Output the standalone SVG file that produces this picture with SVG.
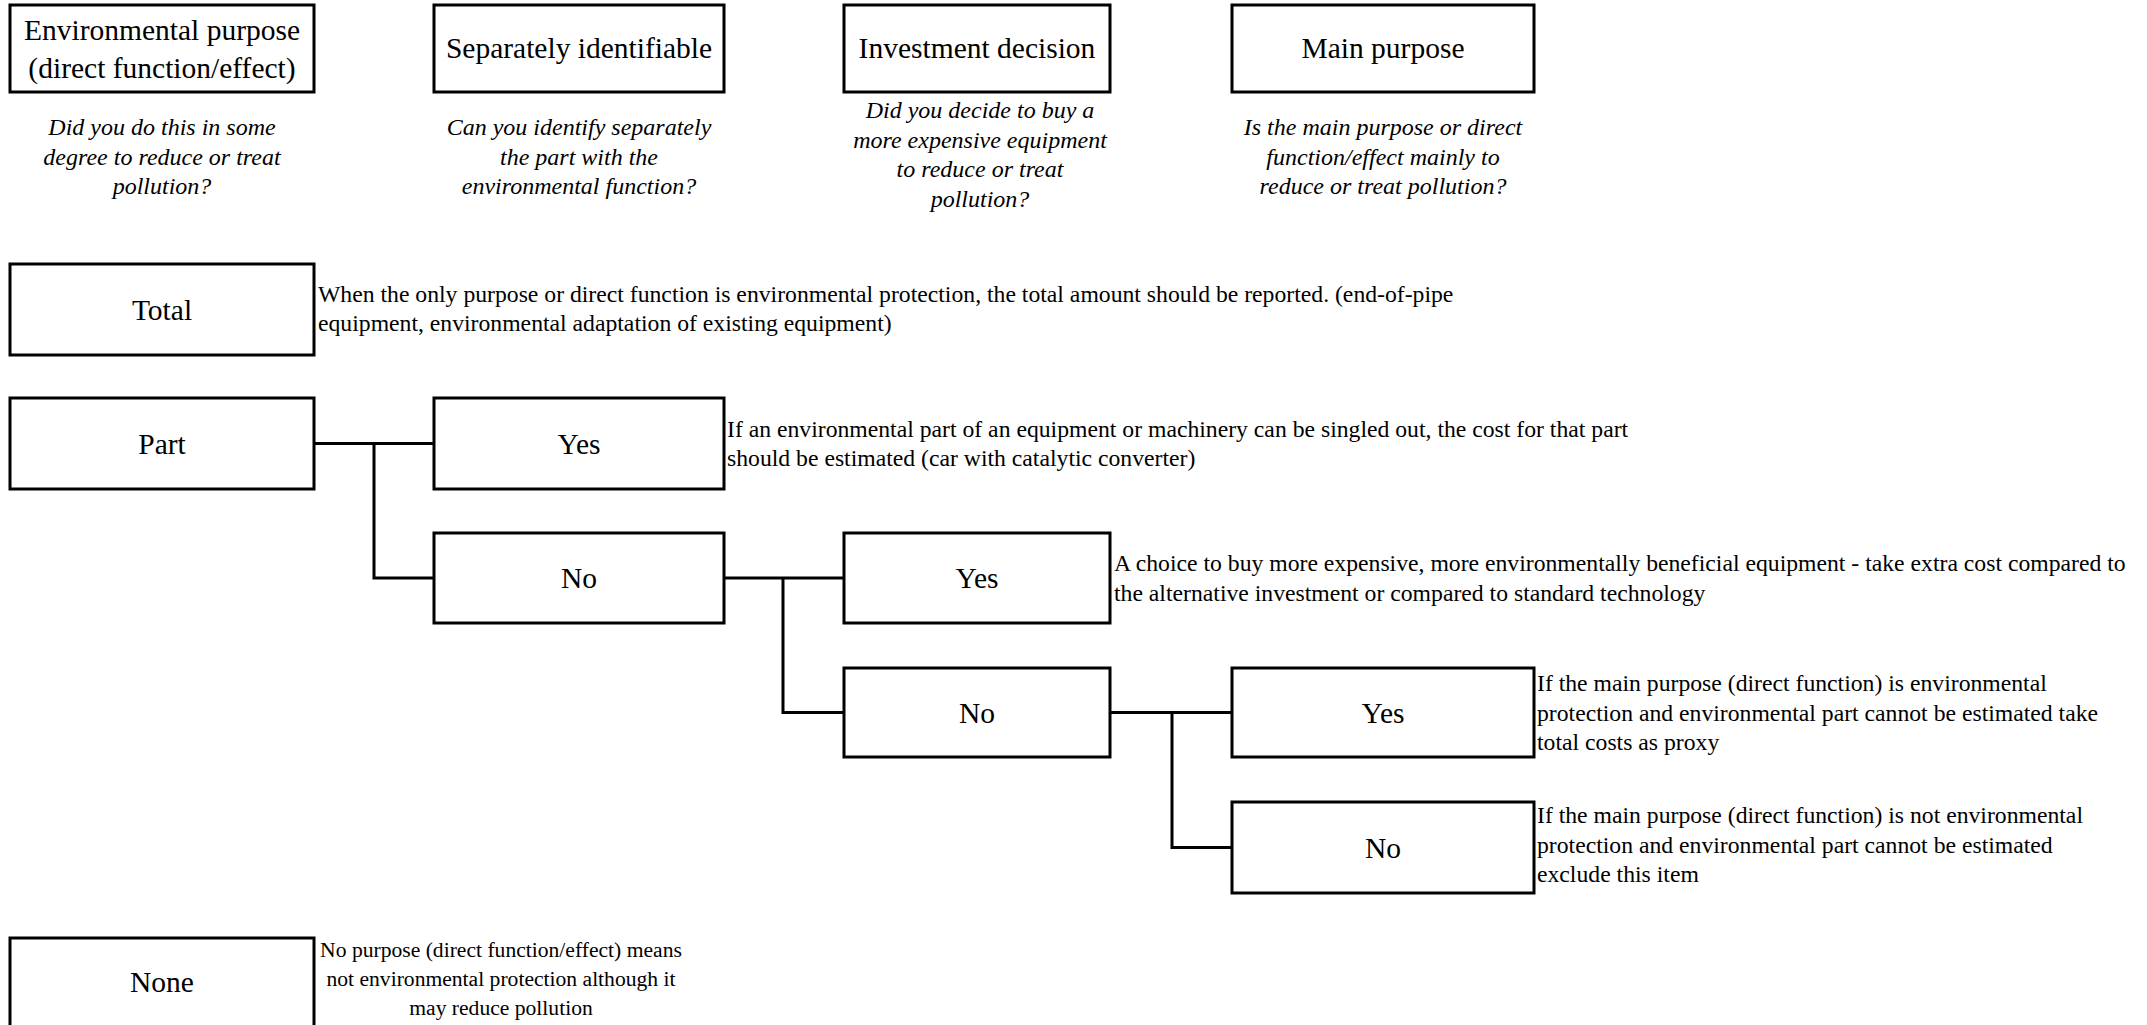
<svg xmlns="http://www.w3.org/2000/svg" width="2147" height="1025" viewBox="0 0 2147 1025">
<style>
.box{fill:#fff;stroke:#000;stroke-width:3}
.lbl{font-family:"Liberation Serif","Times New Roman",serif;font-size:29.5px;fill:#000;text-anchor:middle}
.q{font-family:"Liberation Serif","Times New Roman",serif;font-size:24px;font-style:italic;fill:#000;text-anchor:middle}
.t{font-family:"Liberation Serif","Times New Roman",serif;font-size:23.7px;fill:#000}
.tc{font-family:"Liberation Serif","Times New Roman",serif;font-size:21.6px;fill:#000;text-anchor:middle}
.con{fill:none;stroke:#000;stroke-width:3}
</style>
<rect width="2147" height="1025" fill="#fff"/>
<g id="h-env">
<rect class="box" x="10" y="5" width="304" height="87"/>
<text class="lbl" x="162" y="40">Environmental purpose</text>
<text class="lbl" x="162" y="77.5">(direct function/effect)</text>
<text class="q" x="162" y="135">Did you do this in some</text>
<text class="q" x="162" y="164.5">degree to reduce or treat</text>
<text class="q" x="162" y="194">pollution?</text>
</g>
<g id="h-sep">
<rect class="box" x="434" y="5" width="290" height="87"/>
<text class="lbl" x="579" y="58">Separately identifiable</text>
<text class="q" x="579" y="135">Can you identify separately</text>
<text class="q" x="579" y="164.5">the part with the</text>
<text class="q" x="579" y="194">environmental function?</text>
</g>
<g id="h-inv">
<rect class="box" x="844" y="5" width="266" height="87"/>
<text class="lbl" x="977" y="58">Investment decision</text>
<text class="q" x="980" y="118">Did you decide to buy a</text>
<text class="q" x="980" y="147.5">more expensive equipment</text>
<text class="q" x="980" y="177">to reduce or treat</text>
<text class="q" x="980" y="206.5">pollution?</text>
</g>
<g id="h-main">
<rect class="box" x="1232" y="5" width="302" height="87"/>
<text class="lbl" x="1383" y="58">Main purpose</text>
<text class="q" x="1383" y="135">Is the main purpose or direct</text>
<text class="q" x="1383" y="164.5">function/effect mainly to</text>
<text class="q" x="1383" y="194">reduce or treat pollution?</text>
</g>
<g id="n-total">
<rect class="box" x="10" y="264" width="304" height="91"/>
<text class="lbl" x="162" y="319.5">Total</text>
<text class="t" x="318" y="302">When the only purpose or direct function is environmental protection, the total amount should be reported. (end-of-pipe</text>
<text class="t" x="318" y="331">equipment, environmental adaptation of existing equipment)</text>
</g>
<g id="n-part">
<rect class="box" x="10" y="398" width="304" height="91"/>
<text class="lbl" x="162" y="453.5">Part</text>
</g>
<g id="n-yes1">
<rect class="box" x="434" y="398" width="290" height="91"/>
<text class="lbl" x="579" y="453.5">Yes</text>
<text class="t" x="727" y="437">If an environmental part of an equipment or machinery can be singled out, the cost for that part</text>
<text class="t" x="727" y="466">should be estimated (car with catalytic converter)</text>
</g>
<g id="n-no1">
<rect class="box" x="434" y="533" width="290" height="90"/>
<text class="lbl" x="579" y="588">No</text>
</g>
<g id="n-yes2">
<rect class="box" x="844" y="533" width="266" height="90"/>
<text class="lbl" x="977" y="588">Yes</text>
<text class="t" x="1114" y="571">A choice to buy more expensive, more environmentally beneficial equipment - take extra cost compared to</text>
<text class="t" x="1114" y="601">the alternative investment or compared to standard technology</text>
</g>
<g id="n-no2">
<rect class="box" x="844" y="668" width="266" height="89"/>
<text class="lbl" x="977" y="722.5">No</text>
</g>
<g id="n-yes3">
<rect class="box" x="1232" y="668" width="302" height="89"/>
<text class="lbl" x="1383" y="722.5">Yes</text>
<text class="t" x="1537" y="691">If the main purpose (direct function) is environmental</text>
<text class="t" x="1537" y="720.5">protection and environmental part cannot be estimated take</text>
<text class="t" x="1537" y="750">total costs as proxy</text>
</g>
<g id="n-no3">
<rect class="box" x="1232" y="802" width="302" height="91"/>
<text class="lbl" x="1383" y="857.5">No</text>
<text class="t" x="1537" y="823">If the main purpose (direct function) is not environmental</text>
<text class="t" x="1537" y="852.5">protection and environmental part cannot be estimated</text>
<text class="t" x="1537" y="882">exclude this item</text>
</g>
<g id="n-none">
<rect class="box" x="10" y="938" width="304" height="92"/>
<text class="lbl" x="162" y="992">None</text>
<text class="tc" x="501" y="957">No purpose (direct function/effect) means</text>
<text class="tc" x="501" y="986">not environmental protection although it</text>
<text class="tc" x="501" y="1015">may reduce pollution</text>
</g>
<g id="connectors">
<path class="con" d="M314 443.5H434M374 443.5V578H434"/>
<path class="con" d="M724 578H844M783 578V712.5H844"/>
<path class="con" d="M1110 712.5H1232M1172 712.5V847.5H1232"/>
</g>
</svg>
